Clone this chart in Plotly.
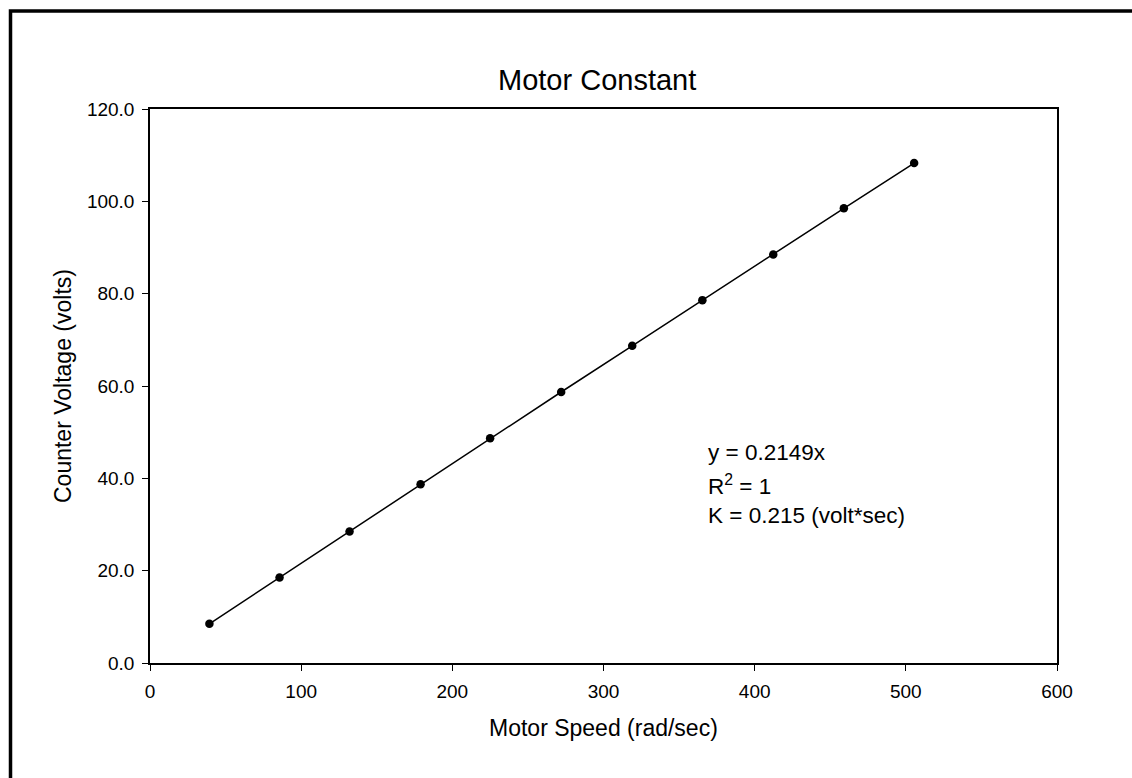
import plotly.graph_objects as go

# Data
motor_speed = [39.3, 85.7, 132.0, 179.0, 225.0, 272.0, 319.0, 365.4, 412.3, 459.0, 505.5]
counter_voltage = [8.5, 18.5, 28.5, 38.7, 48.7, 58.7, 68.7, 78.6, 88.5, 98.5, 108.3]
x_ticks = [0, 100, 200, 300, 400, 500, 600]
y_ticks = [0, 20, 40, 60, 80, 100, 120]
fit_text = ["y = 0.2149x", "R<sup>2</sup> = 1", "K = 0.215 (volt*sec)"]

FONT = "Liberation Sans, Arial, sans-serif"

fig = go.Figure()
fig.add_trace(go.Scatter(
    x=motor_speed, y=counter_voltage, mode="lines+markers",
    line=dict(color="black", width=1.5),
    marker=dict(color="black", size=8.5),
    showlegend=False, hoverinfo="skip",
))

L, R, T, B = 150, 75, 109, 115
W, H = 1132, 778
pw, ph = W - L - R, H - T - B

def px_x(px):
    return (px - L) / pw

def px_y(py):
    return (H - B - py) / ph

annotations = [
    dict(text="Motor Constant", x=px_x(597), y=px_y(80), xref="paper", yref="paper",
         xanchor="center", yanchor="middle", showarrow=False,
         font=dict(size=29, color="black", family=FONT)),
    dict(text="Motor Speed (rad/sec)", x=px_x(603.5), y=px_y(728), xref="paper", yref="paper",
         xanchor="center", yanchor="middle", showarrow=False,
         font=dict(size=23, color="black", family=FONT)),
    dict(text="Counter Voltage (volts)", x=px_x(63), y=px_y(386), xref="paper", yref="paper",
         xanchor="center", yanchor="middle", showarrow=False, textangle=-90,
         font=dict(size=23, color="black", family=FONT)),
]
for t, py in zip(fit_text, [453, 485, 515]):
    annotations.append(dict(text=t, x=px_x(706), y=px_y(py), xref="paper", yref="paper",
                            xanchor="left", yanchor="middle", showarrow=False,
                            font=dict(size=22.5, color="black", family=FONT)))

fig.update_layout(
    width=W, height=H,
    margin=dict(l=L, r=R, t=T, b=B, pad=0),
    paper_bgcolor="white", plot_bgcolor="white",
    font=dict(family=FONT, color="black", size=19),
    annotations=annotations,
    shapes=[dict(type="rect", xref="paper", yref="paper",
                 x0=px_x(10.5), y0=-0.5, x1=1.5, y1=px_y(11),
                 line=dict(color="black", width=3.5), layer="above")],
)
fig.update_xaxes(
    range=[0, 600], tickvals=x_ticks, ticktext=[str(v) for v in x_ticks],
    showgrid=False, zeroline=False, showline=True, linecolor="black", linewidth=1.5,
    mirror=True, ticks="outside", ticklen=6, tickwidth=1, tickcolor="black",
    tickfont=dict(size=19, family=FONT, color="black"), ticklabelstandoff=4,
)
fig.update_yaxes(
    range=[0, 120], tickvals=y_ticks, ticktext=[f"{v:.1f}" for v in y_ticks],
    showgrid=False, zeroline=False, showline=True, linecolor="black", linewidth=1.5,
    mirror=True, ticks="outside", ticklen=6, tickwidth=1, tickcolor="black",
    tickfont=dict(size=19, family=FONT, color="black"), ticklabelstandoff=4,
)

fig.write_html("out.html")
